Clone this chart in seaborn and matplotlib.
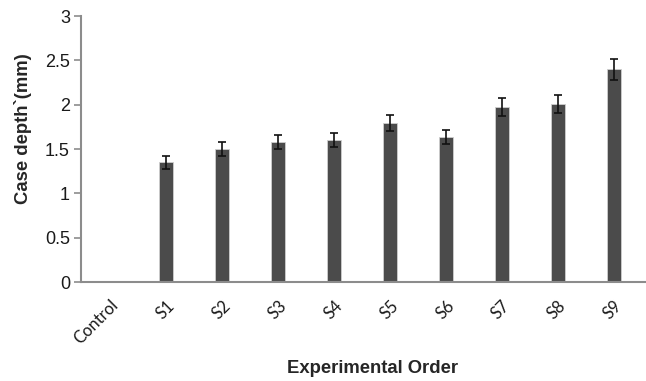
import matplotlib
matplotlib.use("Agg")
import matplotlib.pyplot as plt
import seaborn as sns
import pandas as pd

# Case depth per experimental run
categories = ["Control", "S1", "S2", "S3", "S4", "S5", "S6", "S7", "S8", "S9"]
case_depth = [0.0, 1.35, 1.50, 1.58, 1.60, 1.79, 1.64, 1.97, 2.01, 2.40]
depth_err = [0.0, 0.07, 0.08, 0.08, 0.08, 0.09, 0.08, 0.10, 0.10, 0.12]
y_ticks = [0, 0.5, 1, 1.5, 2, 2.5, 3]
y_tick_labels = ["0", "0.5", "1", "1.5", "2", "2.5", "3"]

df = pd.DataFrame({"order": categories, "depth": case_depth, "err": depth_err})

sns.set_theme(style="white")
plt.rcParams["font.family"] = ["Liberation Sans", "DejaVu Sans"]

fig = plt.figure(figsize=(6.46, 3.81), dpi=100)
ax = fig.add_axes([0.1254, 0.2598, 0.8726, 0.6982])

sns.barplot(data=df, x="order", y="depth", order=categories, color="#4b4b4b",
            saturation=1, width=0.25, errorbar=None, edgecolor="#cfcfcf",
            linewidth=0.6, ax=ax)

xpos = [ax.get_xticks()[i] for i in range(len(categories))]
mask = [e > 0 for e in depth_err]
ax.errorbar([x for x, m in zip(xpos, mask) if m],
            [v for v, m in zip(case_depth, mask) if m],
            yerr=[e for e, m in zip(depth_err, mask) if m],
            fmt="none", ecolor="#111111", elinewidth=1.2, capsize=3.2,
            capthick=1.2, zorder=3)

ax.set_xlim(-0.52, 9.55)
ax.set_ylim(0, 3)
ax.set_yticks(y_ticks)
ax.set_yticklabels(y_tick_labels, fontsize=13, color="#1a1a1a")
ax.set_xticks(xpos)
ax.set_xticklabels(categories, rotation=45, ha="right", rotation_mode="anchor",
                   fontsize=12, family=["Lato", "DejaVu Sans"], color="#1a1a1a")

for side in ["top", "right"]:
    ax.spines[side].set_visible(False)
for side in ["left", "bottom"]:
    ax.spines[side].set_color("#8c8c8c")
    ax.spines[side].set_linewidth(1.5)

ax.tick_params(axis="y", which="both", left=True, length=5, width=1.2,
               color="#8c8c8c", pad=3)
ax.tick_params(axis="x", which="both", bottom=False, pad=5)

ax.set_ylabel("Case depth`(mm)", fontsize=13.3, fontweight="bold")
ax.yaxis.set_label_coords(-0.087, 0.575)
ax.set_xlabel("Experimental Order", fontsize=13.3, fontweight="bold")
ax.xaxis.set_label_coords(0.518, -0.293)

fig.savefig("out.png", dpi=100)
